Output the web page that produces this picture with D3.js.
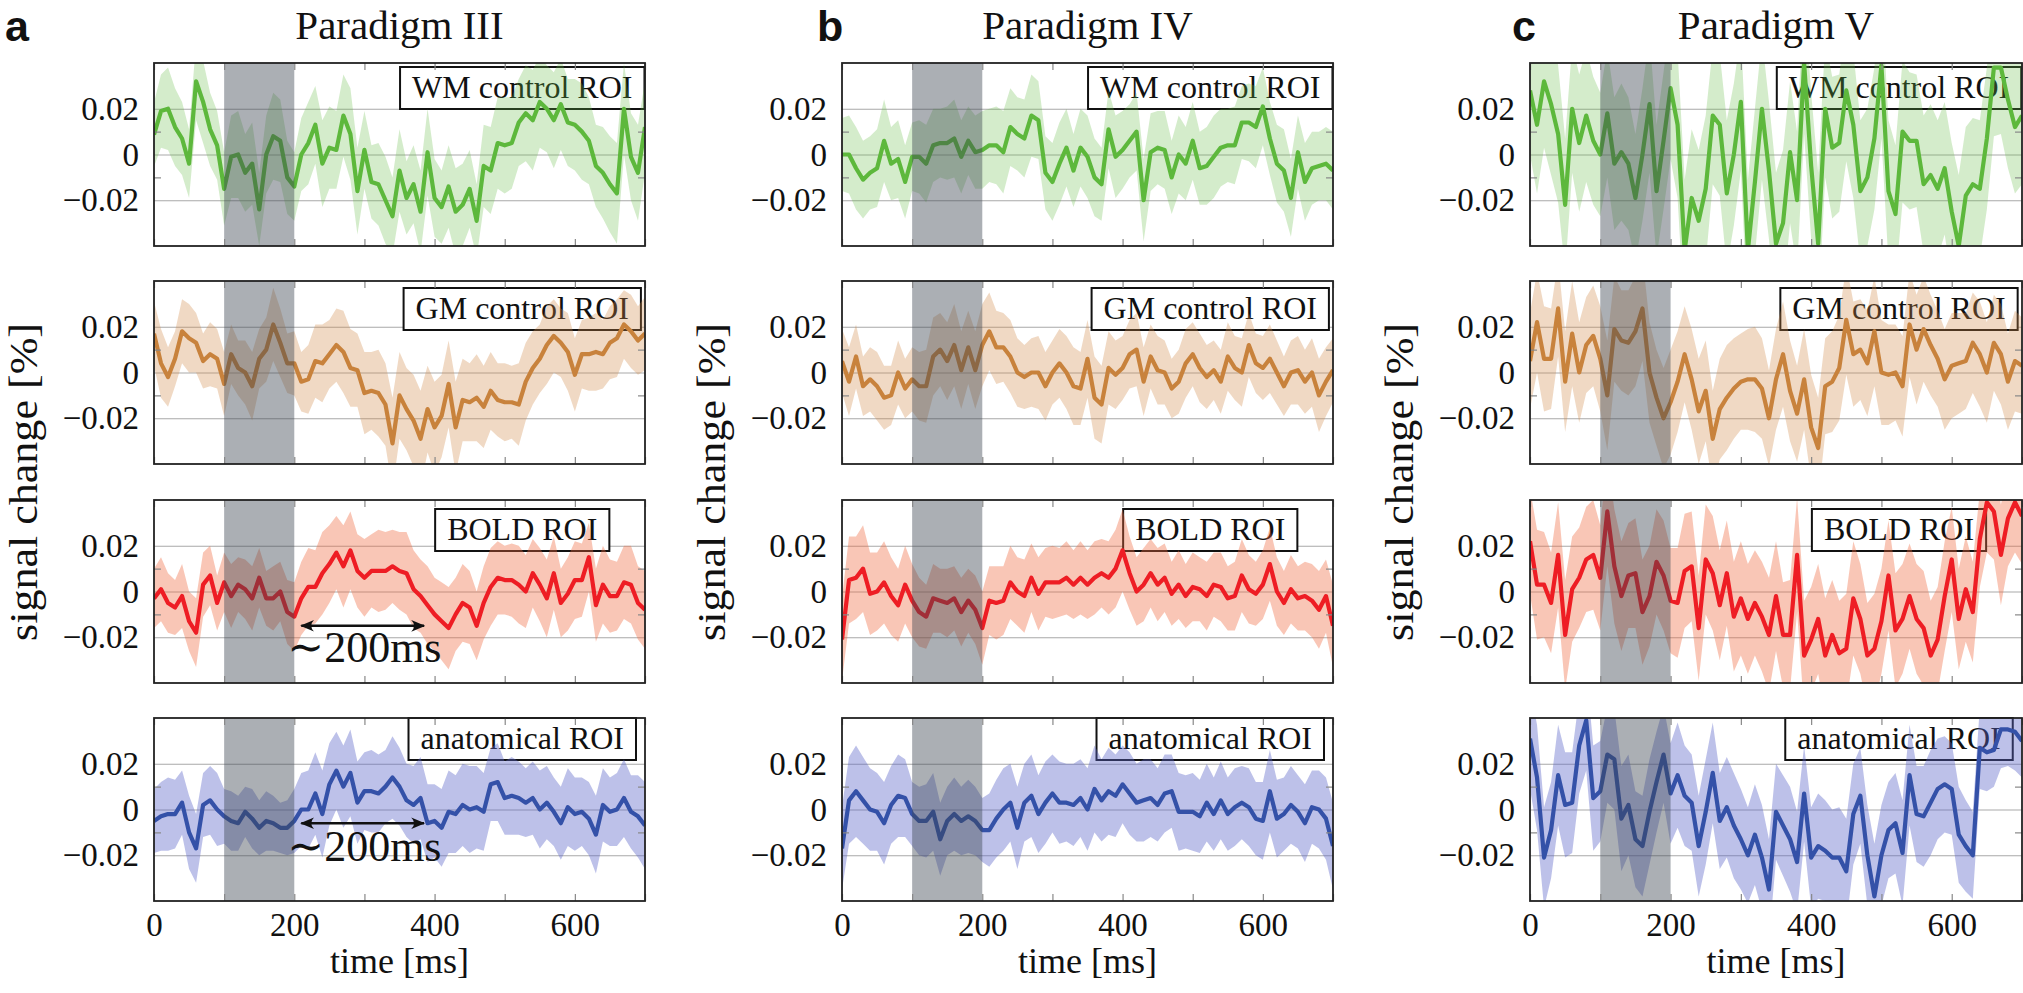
<!DOCTYPE html>
<html><head><meta charset="utf-8">
<script src="https://cdn.jsdelivr.net/npm/d3@7"></script>
<style>
body{margin:0;background:#fff}
svg{display:block}
text{font-family:"Liberation Serif","DejaVu Serif",serif;fill:#111}
</style>
</head><body>
<svg id="chart" width="2023" height="993"></svg>
<script>
// ---------------- DATA ----------------
const paradigms = ["Paradigm III", "Paradigm IV", "Paradigm V"];
const panelLetters = ["a", "b", "c"];
const roiNames = ["WM control ROI", "GM control ROI", "BOLD ROI", "anatomical ROI"];
const yTickValues = [-0.02, 0, 0.02];
const yTickLabels = ["\u22120.02", "0", "0.02"];
const yMinorTicks = [-0.01, 0.01];
const xTickValues = [0, 100, 200, 300, 400, 500, 600, 700];
const xTickLabelValues = [0, 200, 400, 600];
const stimulus = [100, 200];
const timeMs = [0,10,20,30,40,50,60,70,80,90,100,110,120,130,140,150,160,170,180,190,200,210,220,230,240,250,260,270,280,290,300,310,320,330,340,350,360,370,380,390,400,410,420,430,440,450,460,470,480,490,500,510,520,530,540,550,560,570,580,590,600,610,620,630,640,650,660,670,680,690,700];

// Paradigm III (a)
const aWM = [0.0087,0.019,0.020,0.012,0.007,-0.004,0.032,0.023,0.011,0.004,-0.015,-0.001,0,-0.008,-0.004,-0.024,0,0.008,0.006,-0.010,-0.014,0,0.005,0.013,-0.004,0.003,0.002,0.017,0.009,-0.016,0.002,-0.012,-0.013,-0.020,-0.027,-0.007,-0.019,-0.013,-0.025,0.001,-0.019,-0.023,-0.014,-0.025,-0.022,-0.015,-0.029,-0.005,-0.007,0.005,0.004,0.005,0.014,0.018,0.015,0.023,0.020,0.015,0.022,0.014,0.013,0.010,0.006,-0.005,-0.008,-0.013,-0.017,0.020,-0.001,-0.008,0.012];
const aWMsd = [0.014,0.016,0.018,0.017,0.016,0.015,0.017,0.018,0.016,0.015,0.016,0.018,0.019,0.017,0.018,0.016,0.017,0.019,0.018,0.016,0.015,0.016,0.018,0.017,0.019,0.018,0.017,0.018,0.020,0.019,0.017,0.016,0.018,0.019,0.017,0.018,0.016,0.017,0.018,0.019,0.017,0.016,0.018,0.019,0.018,0.017,0.016,0.018,0.019,0.020,0.021,0.020,0.019,0.021,0.022,0.020,0.019,0.021,0.020,0.019,0.020,0.021,0.019,0.018,0.020,0.021,0.022,0.020,0.019,0.021,0.020];
const aGM = [0.017,0.004,-0.002,0.006,0.018,0.015,0.013,0.005,0.008,0.006,-0.005,0.008,0.002,0.000,-0.006,0.006,0.010,0.021,0.013,0.004,0.004,-0.004,-0.003,0.005,0.004,0.008,0.012,0.009,0.002,0.001,-0.009,-0.008,-0.009,-0.014,-0.031,-0.010,-0.016,-0.021,-0.029,-0.016,-0.024,-0.019,-0.005,-0.024,-0.012,-0.013,-0.011,-0.015,-0.008,-0.012,-0.013,-0.013,-0.014,-0.004,0.002,0.006,0.012,0.016,0.013,0.009,-0.001,0.008,0.008,0.009,0.008,0.013,0.015,0.021,0.018,0.014,0.017];
const aGMsd = [0.014,0.015,0.013,0.012,0.014,0.015,0.013,0.012,0.014,0.013,0.014,0.013,0.012,0.014,0.015,0.013,0.014,0.016,0.015,0.013,0.014,0.013,0.015,0.016,0.017,0.015,0.016,0.018,0.017,0.016,0.018,0.017,0.019,0.018,0.020,0.019,0.018,0.020,0.021,0.019,0.020,0.018,0.019,0.020,0.018,0.017,0.019,0.018,0.017,0.016,0.017,0.016,0.018,0.017,0.016,0.015,0.017,0.016,0.015,0.017,0.016,0.015,0.016,0.017,0.015,0.016,0.017,0.015,0.016,0.015,0.016];
const aBOLD = [-0.003,0.001,-0.005,-0.007,-0.002,-0.013,-0.018,0.003,0.007,-0.005,0.004,-0.002,0.003,0.001,-0.003,0.006,-0.003,-0.003,0.000,-0.009,-0.011,-0.003,0.002,0.002,0.008,0.012,0.017,0.011,0.018,0.009,0.006,0.009,0.009,0.009,0.011,0.009,0.008,0.001,-0.002,-0.006,-0.010,-0.013,-0.016,-0.010,-0.005,-0.007,-0.015,-0.005,0.002,0.006,0.005,0.005,0.003,0.000,0.008,0.003,-0.003,0.008,-0.005,-0.001,0.005,0.005,0.015,-0.006,0.003,-0.002,-0.002,0.004,0.003,-0.005,-0.008];
const aBOLDsd = [0.013,0.014,0.013,0.012,0.014,0.013,0.015,0.014,0.013,0.012,0.013,0.014,0.012,0.013,0.014,0.013,0.012,0.014,0.013,0.014,0.015,0.016,0.017,0.016,0.018,0.017,0.016,0.018,0.017,0.016,0.017,0.016,0.018,0.017,0.016,0.017,0.018,0.017,0.016,0.017,0.016,0.017,0.018,0.016,0.017,0.016,0.015,0.016,0.017,0.016,0.015,0.016,0.017,0.016,0.015,0.016,0.017,0.016,0.015,0.016,0.017,0.016,0.015,0.016,0.017,0.016,0.015,0.016,0.017,0.016,0.017];
const aAnat = [-0.005,-0.003,-0.002,-0.002,0.003,-0.010,-0.017,0.002,0.004,0.000,-0.003,-0.005,-0.006,-0.001,-0.004,-0.008,-0.005,-0.006,-0.008,-0.008,-0.005,0.000,0.000,0.007,-0.002,0.011,0.017,0.010,0.016,0.003,0.008,0.008,0.007,0.010,0.014,0.010,0.004,0.002,0.005,-0.006,-0.005,-0.008,-0.001,-0.002,0.002,0.000,0.001,-0.001,0.011,0.012,0.005,0.006,0.005,0.003,0.005,0.000,0.003,-0.001,-0.006,0.001,-0.002,-0.001,-0.004,-0.011,0.002,-0.001,0.000,0.005,-0.001,-0.003,-0.007];
const aAnatsd = [0.014,0.015,0.016,0.015,0.014,0.016,0.015,0.014,0.015,0.016,0.012,0.013,0.012,0.011,0.013,0.012,0.013,0.012,0.011,0.012,0.014,0.016,0.017,0.018,0.019,0.018,0.017,0.018,0.019,0.018,0.017,0.018,0.017,0.016,0.018,0.017,0.016,0.017,0.018,0.017,0.016,0.017,0.018,0.017,0.018,0.019,0.018,0.017,0.016,0.017,0.016,0.017,0.016,0.015,0.016,0.017,0.016,0.015,0.016,0.017,0.016,0.015,0.016,0.017,0.016,0.015,0.016,0.017,0.016,0.018,0.019];

// Paradigm IV (b)
const bWM = [0.000,0.000,-0.006,-0.011,-0.008,-0.006,0.006,-0.004,-0.002,-0.012,-0.001,-0.001,-0.004,0.004,0.005,0.005,0.007,-0.001,0.006,0.001,0.002,0.004,0.004,0.001,0.012,0.009,0.007,0.017,0.015,-0.008,-0.012,-0.004,0.003,-0.007,0.003,-0.001,-0.010,-0.013,0.011,-0.001,0.002,0.006,0.010,-0.020,0.001,0.003,0.002,-0.010,0.000,-0.004,0.006,-0.006,-0.005,-0.001,0.003,0.004,0.004,0.014,0.014,0.012,0.021,0.007,-0.004,-0.007,-0.019,0.001,-0.012,-0.006,-0.005,-0.004,-0.007];
const bWMsd = [0.016,0.017,0.018,0.017,0.016,0.017,0.018,0.016,0.017,0.016,0.015,0.016,0.017,0.016,0.015,0.016,0.017,0.016,0.015,0.016,0.017,0.016,0.017,0.018,0.017,0.016,0.017,0.018,0.017,0.016,0.017,0.018,0.017,0.016,0.017,0.018,0.017,0.016,0.017,0.018,0.017,0.016,0.017,0.018,0.017,0.016,0.017,0.016,0.017,0.016,0.017,0.016,0.017,0.018,0.017,0.016,0.017,0.016,0.017,0.018,0.017,0.016,0.017,0.018,0.017,0.016,0.017,0.016,0.015,0.016,0.017];
const bGM = [0.005,-0.004,0.007,-0.006,-0.003,-0.006,-0.011,-0.010,0.000,-0.007,-0.003,-0.006,-0.006,0.007,0.010,0.005,0.012,0.001,0.011,0.001,0.012,0.018,0.011,0.011,0.007,0.000,-0.002,0.000,0.000,-0.006,0.000,0.004,0.000,-0.006,-0.007,0.006,-0.011,-0.014,0.002,-0.001,0.002,0.008,0.010,-0.004,0.007,0.001,0.000,-0.007,-0.004,0.004,0.008,0.002,-0.002,0.001,-0.004,0.007,0.002,0.000,0.012,0.004,0.002,0.006,0.000,-0.006,0.000,0.001,-0.004,0.000,-0.010,-0.004,0.001];
const bGMsd = [0.014,0.015,0.014,0.013,0.014,0.015,0.014,0.013,0.014,0.013,0.014,0.015,0.016,0.017,0.016,0.017,0.018,0.017,0.016,0.017,0.018,0.017,0.016,0.015,0.016,0.015,0.014,0.015,0.016,0.015,0.014,0.015,0.016,0.017,0.016,0.017,0.018,0.017,0.016,0.015,0.014,0.015,0.016,0.015,0.014,0.015,0.014,0.013,0.014,0.015,0.014,0.015,0.014,0.013,0.014,0.015,0.014,0.015,0.014,0.013,0.014,0.015,0.014,0.013,0.014,0.015,0.014,0.015,0.016,0.015,0.014];
const bBOLD = [-0.021,0.005,0.006,0.010,-0.001,0.000,0.004,-0.002,-0.006,0.003,-0.004,-0.009,-0.011,-0.003,-0.004,-0.005,-0.003,-0.009,-0.004,-0.008,-0.016,-0.004,-0.005,-0.004,0.004,0.000,-0.002,0.006,-0.001,0.004,0.004,0.004,0.006,0.003,0.006,0.003,0.006,0.008,0.006,0.010,0.018,0.008,0.000,0.003,0.008,0.003,0.006,-0.001,0.003,-0.002,0.002,0.001,-0.002,0.003,0.002,-0.003,-0.002,0.007,0.001,-0.001,0.003,0.012,0.000,-0.005,0.001,-0.003,-0.002,-0.004,-0.008,-0.002,-0.015];
const bBOLDsd = [0.018,0.019,0.018,0.019,0.018,0.017,0.018,0.017,0.016,0.017,0.016,0.015,0.014,0.015,0.014,0.015,0.014,0.015,0.014,0.015,0.016,0.015,0.016,0.015,0.016,0.015,0.016,0.015,0.016,0.015,0.016,0.015,0.016,0.015,0.016,0.015,0.016,0.015,0.016,0.017,0.018,0.016,0.015,0.016,0.015,0.016,0.015,0.014,0.015,0.014,0.015,0.014,0.015,0.014,0.015,0.014,0.015,0.016,0.015,0.014,0.015,0.016,0.015,0.014,0.015,0.014,0.015,0.016,0.017,0.016,0.018];
const bAnat = [-0.017,0.004,0.008,0.004,0.000,-0.001,-0.006,0.002,0.006,0.005,-0.002,-0.005,-0.005,-0.001,-0.013,-0.005,-0.002,-0.005,-0.003,-0.005,-0.009,-0.009,-0.004,0.000,0.003,-0.008,0.003,0.006,-0.002,0.003,0.007,0.003,0.003,0.002,0.005,0.000,0.009,0.004,0.008,0.006,0.011,0.007,0.003,0.004,0.005,0.002,0.007,0.008,-0.001,-0.001,-0.001,-0.003,0.003,-0.002,0.004,-0.002,0.001,0.003,0.001,-0.004,-0.005,0.008,-0.004,-0.002,0.002,-0.001,-0.006,0.001,0.000,-0.004,-0.016];
const bAnatsd = [0.018,0.019,0.020,0.019,0.018,0.017,0.018,0.017,0.018,0.017,0.014,0.015,0.016,0.017,0.016,0.015,0.016,0.015,0.016,0.015,0.014,0.016,0.017,0.018,0.017,0.018,0.017,0.018,0.017,0.018,0.017,0.018,0.017,0.018,0.017,0.018,0.019,0.018,0.019,0.018,0.017,0.018,0.017,0.018,0.017,0.016,0.017,0.016,0.017,0.016,0.017,0.016,0.017,0.016,0.017,0.016,0.017,0.016,0.017,0.016,0.017,0.018,0.017,0.016,0.017,0.016,0.017,0.016,0.017,0.018,0.019];

// Paradigm V (c)
const cWM = [0.028,0.013,0.032,0.022,0.009,-0.022,0.020,0.005,0.017,0.006,0.000,0.018,-0.004,0.001,-0.004,-0.019,0.000,0.022,-0.016,0.006,0.029,0.013,-0.042,-0.019,-0.029,-0.015,0.017,0.013,-0.017,0.000,0.023,-0.042,-0.012,0.020,-0.007,-0.039,-0.030,0.001,-0.020,0.040,-0.005,-0.039,0.020,0.003,0.005,0.028,0.013,-0.016,-0.010,0.007,0.039,-0.016,-0.026,0.010,0.006,0.006,-0.013,-0.009,-0.015,-0.006,-0.025,-0.040,-0.018,-0.013,-0.015,0.007,0.038,0.038,0.024,0.012,0.017];
const cWMsd = [0.028,0.030,0.029,0.031,0.030,0.029,0.028,0.030,0.029,0.028,0.027,0.028,0.029,0.030,0.029,0.028,0.029,0.030,0.029,0.030,0.031,0.032,0.031,0.030,0.031,0.032,0.030,0.031,0.032,0.031,0.030,0.031,0.032,0.031,0.030,0.031,0.032,0.031,0.030,0.031,0.032,0.031,0.030,0.031,0.030,0.031,0.032,0.031,0.030,0.031,0.032,0.031,0.030,0.031,0.030,0.029,0.030,0.031,0.030,0.029,0.030,0.031,0.030,0.029,0.030,0.031,0.030,0.029,0.030,0.029,0.030];
const cGM = [0.005,0.022,0.006,0.006,0.028,-0.004,0.017,0.000,0.012,0.016,0.006,-0.010,0.019,0.014,0.013,0.018,0.028,0.000,-0.011,-0.020,-0.013,-0.004,0.008,-0.003,-0.017,-0.008,-0.029,-0.016,-0.011,-0.007,-0.004,-0.003,-0.003,-0.007,-0.020,-0.003,0.008,-0.008,-0.018,-0.003,-0.024,-0.033,-0.006,-0.004,0.002,0.023,0.008,0.010,0.004,0.018,0.000,-0.001,0.000,-0.006,0.021,0.010,0.019,0.012,0.006,-0.003,0.003,0.004,0.005,0.013,0.008,0.000,0.013,0.008,-0.004,0.005,0.003];
const cGMsd = [0.021,0.022,0.023,0.022,0.021,0.022,0.023,0.022,0.021,0.022,0.023,0.024,0.023,0.022,0.023,0.024,0.023,0.022,0.021,0.022,0.023,0.022,0.021,0.022,0.023,0.022,0.021,0.022,0.023,0.022,0.021,0.022,0.023,0.022,0.021,0.022,0.023,0.022,0.021,0.022,0.023,0.022,0.021,0.022,0.023,0.024,0.023,0.022,0.023,0.024,0.023,0.022,0.021,0.022,0.023,0.024,0.023,0.022,0.021,0.022,0.023,0.022,0.021,0.022,0.023,0.022,0.021,0.022,0.021,0.022,0.021];
const cBOLD = [0.022,0.003,0.003,-0.005,0.016,-0.019,0.001,0.006,0.014,0.016,0.006,0.035,0.011,-0.002,0.007,0.008,-0.009,-0.002,0.013,0.007,-0.004,-0.005,0.009,0.011,-0.016,0.014,0.008,-0.006,0.008,-0.011,-0.003,-0.012,-0.005,-0.011,-0.019,-0.002,-0.019,-0.019,0.016,-0.028,-0.021,-0.012,-0.028,-0.019,-0.027,-0.025,-0.003,-0.012,-0.028,-0.025,-0.013,0.007,-0.017,-0.012,-0.002,-0.012,-0.016,-0.028,-0.021,-0.002,0.014,-0.012,0.001,-0.009,0.023,0.039,0.035,0.016,0.032,0.039,0.033];
const cBOLDsd = [0.023,0.024,0.023,0.022,0.023,0.024,0.023,0.022,0.023,0.024,0.023,0.024,0.025,0.024,0.023,0.024,0.023,0.022,0.023,0.024,0.023,0.024,0.025,0.024,0.023,0.024,0.025,0.024,0.023,0.024,0.025,0.024,0.023,0.024,0.025,0.024,0.023,0.024,0.025,0.024,0.023,0.024,0.025,0.024,0.023,0.024,0.025,0.024,0.023,0.024,0.023,0.024,0.025,0.024,0.023,0.024,0.025,0.024,0.023,0.024,0.023,0.022,0.023,0.022,0.021,0.022,0.021,0.022,0.021,0.022,0.021];
const cAnat = [0.031,0.014,-0.021,-0.009,0.015,0.002,0.003,0.028,0.039,0.005,0.008,0.024,0.022,-0.004,0.002,-0.013,-0.016,-0.001,0.012,0.024,0.007,0.015,0.006,0.003,-0.016,-0.001,0.016,-0.005,0.001,-0.007,-0.013,-0.020,-0.011,-0.021,-0.035,-0.001,-0.007,-0.013,-0.023,0.007,-0.021,-0.016,-0.018,-0.021,-0.021,-0.027,-0.002,0.006,-0.020,-0.038,-0.020,-0.009,-0.006,-0.019,0.015,-0.002,-0.003,0.003,0.009,0.011,0.009,-0.011,-0.016,-0.020,0.027,0.025,0.026,0.035,0.035,0.034,0.030];
const cAnatsd = [0.022,0.023,0.022,0.021,0.022,0.023,0.022,0.021,0.022,0.023,0.022,0.021,0.022,0.023,0.022,0.021,0.022,0.023,0.022,0.021,0.022,0.023,0.022,0.021,0.022,0.023,0.022,0.021,0.022,0.023,0.022,0.021,0.022,0.023,0.022,0.021,0.022,0.023,0.022,0.021,0.022,0.023,0.022,0.021,0.022,0.023,0.022,0.021,0.022,0.023,0.022,0.021,0.022,0.023,0.022,0.021,0.022,0.023,0.022,0.021,0.020,0.021,0.020,0.019,0.018,0.017,0.016,0.017,0.016,0.017,0.016];

// annotations (panel a, BOLD and anatomical rows)
const annotRows = [2, 3];
const annotArrowT = [210, 385];
const annotArrowY = [-0.015, -0.006];
const annotLabelT = 190;
const annotLabelY = [-0.031, -0.0225];
const annotText = "\u223C200ms";

// ---------------- DRAWING ----------------
const means = [[aWM, aGM, aBOLD, aAnat], [bWM, bGM, bBOLD, bAnat], [cWM, cGM, cBOLD, cAnat]];
const sds = [[aWMsd, aGMsd, aBOLDsd, aAnatsd], [bWMsd, bGMsd, bBOLDsd, bAnatsd], [cWMsd, cGMsd, cBOLDsd, cAnatsd]];

const lineColors = ["#5db83c", "#c8823c", "#ee1d24", "#3451a8"];
const bandColors = ["#64bb44", "#cf8a48", "#f06a40", "#5a64c8"];
const bandOpacity = [0.28, 0.32, 0.38, 0.40];

const colX = [154, 842, 1530];
const plotW = [491, 491, 492];
const rowY = [63, 281, 500, 718];
const plotH = 183;
const legendTop = [4, 7, 9, 0];
const letterX = [5, 817, 1512];

const svg = d3.select("#chart");
const defs = svg.append("defs");
const mk = defs.append("marker").attr("id", "arrowhead")
  .attr("viewBox", "0 0 12 10").attr("refX", 11).attr("refY", 5)
  .attr("markerWidth", 14).attr("markerHeight", 12).attr("markerUnits", "userSpaceOnUse")
  .attr("orient", "auto-start-reverse");
mk.append("path").attr("d", "M0,0 Q5,5 0,10 L12,5 Z").attr("fill", "#111");

const y = d3.scaleLinear().domain([-0.04, 0.04]).range([plotH, 0]);

for (let c = 0; c < 3; c++) {
  const x = d3.scaleLinear().domain([0, 700]).range([0, plotW[c]]);
  const W = plotW[c];

  // title
  svg.append("text").attr("x", colX[c] + W / 2).attr("y", 39)
    .attr("text-anchor", "middle").style("font-size", "41px").text(paradigms[c]);
  // panel letter
  svg.append("text").attr("x", letterX[c]).attr("y", 41)
    .style("font-family", "'Liberation Sans', Arial, sans-serif").style("font-weight", "bold")
    .style("font-size", "43px").text(panelLetters[c]);
  // y label
  const ly = (rowY[0] + rowY[3] + plotH) / 2;
  svg.append("text").attr("transform", `translate(${colX[c] - 117},${ly}) rotate(-90)`)
    .attr("text-anchor", "middle").style("font-size", "39px")
    .attr("textLength", 318).attr("lengthAdjust", "spacingAndGlyphs")
    .text("signal change [%]");
  // x label
  svg.append("text").attr("x", colX[c] + W / 2).attr("y", rowY[3] + plotH + 72)
    .attr("text-anchor", "middle").style("font-size", "36px").text("time [ms]");

  for (let r = 0; r < 4; r++) {
    const g = svg.append("g").attr("transform", `translate(${colX[c]},${rowY[r]})`);
    const cid = `clip-${c}-${r}`;
    defs.append("clipPath").attr("id", cid).append("rect").attr("width", W).attr("height", plotH);

    // grid
    const grid = g.append("g").call(d3.axisLeft(y).tickValues(yTickValues).tickSize(-W).tickFormat(""));
    grid.select(".domain").remove();
    grid.selectAll("line").attr("stroke", "#a9a9a9").attr("stroke-width", 1.2);

    // legend box (under data)
    const lg = g.append("g");
    const lt = lg.append("text").attr("x", 0.75 * W).attr("y", legendTop[r] + 31)
      .attr("text-anchor", "middle").style("font-size", "32px").text(roiNames[r]);
    const tw = lt.node().getComputedTextLength();
    lg.insert("rect", "text").attr("x", 0.75 * W - tw / 2 - 12).attr("y", legendTop[r])
      .attr("width", tw + 24).attr("height", 42)
      .attr("fill", "#fff").attr("stroke", "#111").attr("stroke-width", 2);

    const data = timeMs.map((t, i) => ({ t, m: means[c][r][i], s: sds[c][r][i] }));
    const dg = g.append("g").attr("clip-path", `url(#${cid})`);
    dg.append("path").datum(data)
      .attr("d", d3.area().x(d => x(d.t)).y0(d => y(d.m - d.s)).y1(d => y(d.m + d.s)))
      .attr("fill", bandColors[r]).attr("fill-opacity", bandOpacity[r]);
    dg.append("path").datum(data)
      .attr("d", d3.line().x(d => x(d.t)).y(d => y(d.m)))
      .attr("fill", "none").attr("stroke", lineColors[r]).attr("stroke-width", 4.2)
      .attr("stroke-linejoin", "round");

    // stimulus window
    g.append("rect").attr("x", x(stimulus[0])).attr("width", x(stimulus[1]) - x(stimulus[0]))
      .attr("y", 0).attr("height", plotH).attr("fill", "#3c4650").attr("fill-opacity", 0.43);

    // ticks
    const tb = g.append("g").attr("transform", `translate(0,${plotH})`)
      .call(d3.axisBottom(x).tickValues(xTickValues).tickSize(-7).tickFormat(""));
    const tt = g.append("g").call(d3.axisTop(x).tickValues(xTickValues).tickSize(-7).tickFormat(""));
    const tl = g.append("g").call(d3.axisLeft(y).tickValues(yMinorTicks).tickSize(-7).tickFormat(""));
    const tr = g.append("g").attr("transform", `translate(${W},0)`)
      .call(d3.axisRight(y).tickValues(yMinorTicks).tickSize(-7).tickFormat(""));
    [tb, tt, tl, tr].forEach(a => { a.select(".domain").remove(); a.selectAll("line").attr("stroke", "#888").attr("stroke-width", 1.2); });

    // frame
    g.append("rect").attr("width", W).attr("height", plotH).attr("fill", "none")
      .attr("stroke", "#222").attr("stroke-width", 1.8);

    // y tick labels
    const ya = g.append("g").call(d3.axisLeft(y).tickValues(yTickValues)
      .tickFormat((d, i) => yTickLabels[i]).tickSize(0).tickPadding(15));
    ya.select(".domain").remove();
    ya.selectAll("text").style("font-family", "'Liberation Serif',serif").style("font-size", "33px").attr("fill", "#111");

    if (r === 3) {
      const xa = g.append("g").attr("transform", `translate(0,${plotH})`)
        .call(d3.axisBottom(x).tickValues(xTickLabelValues).tickSize(0).tickPadding(12));
      xa.select(".domain").remove();
      xa.selectAll("text").style("font-family", "'Liberation Serif',serif").style("font-size", "33px").attr("fill", "#111");
    }

    // annotations
    if (c === 0 && annotRows.includes(r)) {
      const k = annotRows.indexOf(r);
      g.append("line").attr("x1", x(annotArrowT[0])).attr("x2", x(annotArrowT[1]))
        .attr("y1", y(annotArrowY[k])).attr("y2", y(annotArrowY[k]))
        .attr("stroke", "#111").attr("stroke-width", 2.6)
        .attr("marker-start", "url(#arrowhead)").attr("marker-end", "url(#arrowhead)");
      g.append("text").attr("x", x(annotLabelT)).attr("y", y(annotLabelY[k]))
        .style("font-size", "44px").text(annotText);
    }
  }
}
</script>
</body></html>
